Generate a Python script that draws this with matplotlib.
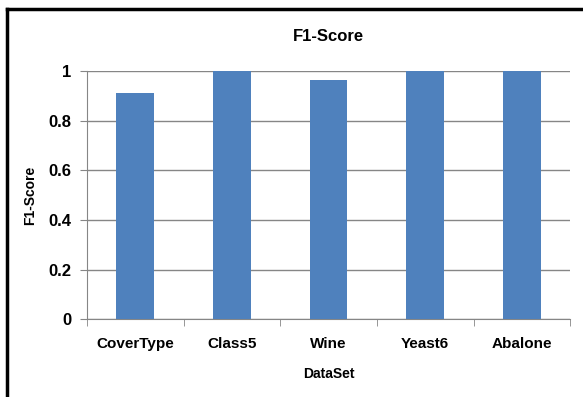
import numpy as np
import matplotlib.pyplot as plt
from matplotlib.lines import Line2D

datasets = ['CoverType', 'Class5', 'Wine', 'Yeast6', 'Abalone']
f1_scores = [0.91, 1.0, 0.964, 1.0, 1.0]

plt.rcParams['font.family'] = ['Liberation Sans', 'DejaVu Sans']
plt.rcParams['font.weight'] = 'bold'

fig = plt.figure(figsize=(5.83, 3.97), dpi=100)
ax = fig.add_axes([0.149, 0.196, 0.829, 0.625])

x = np.arange(len(datasets))
ax.bar(x, f1_scores, width=0.39, color='#4F81BD', zorder=3)

ax.set_xlim(-0.5, len(datasets) - 0.5)
ax.set_ylim(0, 1)
ax.set_yticks(np.arange(0, 1.01, 0.2))
ax.set_yticklabels(['0', '0.2', '0.4', '0.6', '0.8', '1'])
ax.set_xticks(x)
ax.set_xticklabels(datasets)
ax.set_xticks(np.arange(-0.5, len(datasets), 1.0), minor=True)

ax.tick_params(axis='x', which='major', length=0, pad=13, labelsize=11)
ax.tick_params(axis='x', which='minor', length=5, color='#868686', direction='out')
ax.tick_params(axis='y', length=5, color='#868686', labelsize=12, pad=6)

ax.grid(axis='y', color='#868686', linewidth=1, zorder=0)
for side in ['top', 'right']:
    ax.spines[side].set_visible(False)
for side in ['left', 'bottom']:
    ax.spines[side].set_color('#868686')

ax.set_title('F1-Score', fontsize=12, fontweight='bold', pad=22)
ax.set_ylabel('F1-Score', fontsize=10, fontweight='bold', labelpad=8)
ax.set_xlabel('DataSet', fontsize=10, fontweight='bold', labelpad=11)

# outer frame along the top and left edges
fig.add_artist(Line2D([0.012, 1.0], [0.978, 0.978], color='black', linewidth=2.5, transform=fig.transFigure))
fig.add_artist(Line2D([0.012, 0.012], [0.0, 0.978], color='black', linewidth=2.5, transform=fig.transFigure))

fig.savefig('out.png', dpi=100)
